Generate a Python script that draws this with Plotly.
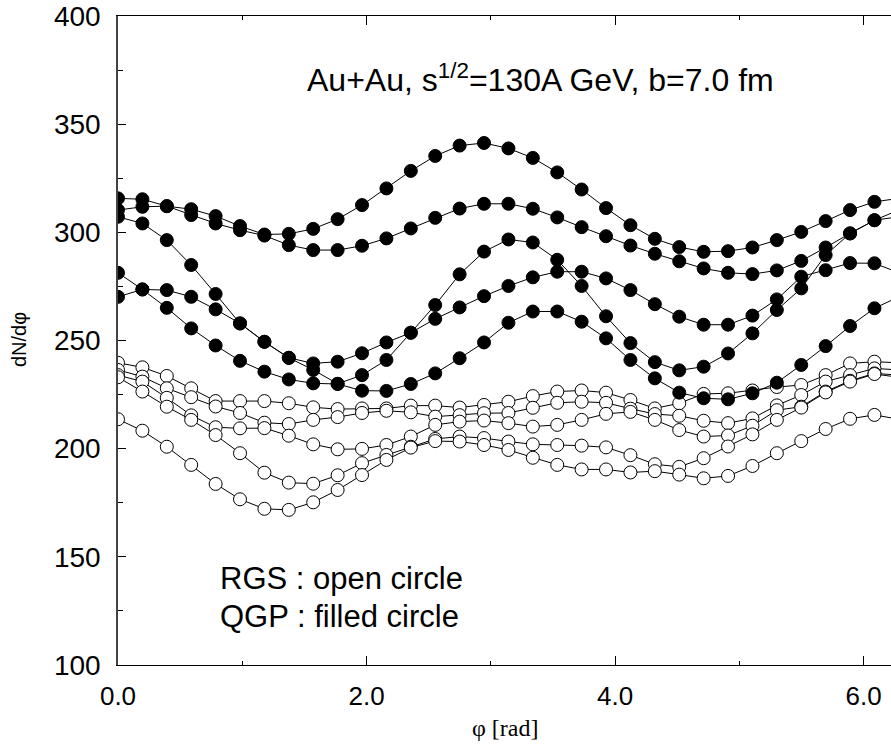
import numpy as np
import plotly.graph_objects as go

# azimuthal angle bins (33 points, 0 .. 2pi)
phi = np.linspace(0, 2 * np.pi, 33)

# QGP (filled circles)
qgp_a = [315.7, 315.3, 312.1, 310.7, 307.5, 302.9, 299.0, 299.3, 301.6, 306.1, 312.6, 320.3, 328.4, 335.3, 340.1, 341.3,
         338.8, 334.4, 327.7, 319.8, 311.2, 303.3, 297.0, 293.2, 291.0, 291.3, 293.0, 296.4, 300.2, 305.2, 310.3, 314.1, 315.7]
qgp_b = [310.3, 311.8, 312.1, 308.0, 304.1, 301.0, 298.5, 294.1, 291.8, 291.8, 293.8, 297.2, 301.8, 306.7, 311.0, 313.2,
         313.2, 310.9, 306.9, 302.4, 298.2, 293.9, 290.1, 286.6, 283.3, 281.3, 280.7, 282.4, 286.8, 293.0, 299.5, 305.6, 310.3]
qgp_c = [307.2, 304.1, 296.4, 284.9, 271.5, 257.9, 249.4, 242.0, 236.4, 230.0, 234.0, 241.0, 253.6, 266.4, 280.6, 291.1,
         296.7, 295.3, 287.3, 275.2, 261.2, 248.8, 240.0, 236.2, 237.9, 244.0, 253.3, 264.1, 274.1, 289.5, 299.5, 305.6, 307.2]
qgp_d = [281.3, 273.6, 273.3, 270.2, 264.4, 257.9, 249.4, 242.0, 239.4, 240.2, 244.1, 249.1, 253.6, 260.0, 265.3, 270.5,
         275.2, 279.2, 281.8, 281.8, 278.7, 273.3, 266.8, 261.0, 257.3, 257.3, 261.5, 269.0, 279.5, 282.5, 285.8, 285.7, 281.3]
qgp_e = [270.2, 273.6, 265.1, 255.6, 247.7, 240.6, 235.6, 232.0, 230.2, 229.9, 226.8, 226.7, 229.9, 234.8, 241.8, 249.1,
         258.2, 263.4, 263.4, 258.7, 251.0, 241.0, 232.5, 225.9, 223.3, 222.8, 225.6, 230.5, 238.7, 247.4, 256.7, 264.9, 270.2]

# RGS (open circles)
rgs_a = [239.7, 237.6, 233.6, 227.9, 222.0, 222.0, 222.0, 221.0, 219.1, 218.3, 218.6, 218.6, 219.9, 219.9, 219.0, 220.2,
         221.7, 224.3, 226.4, 226.9, 225.9, 222.5, 218.6, 221.0, 225.3, 225.6, 226.9, 228.5, 229.4, 234.0, 239.4, 240.2, 239.7]
rgs_b = [236.4, 233.3, 227.9, 223.8, 219.5, 216.5, 212.0, 211.4, 213.3, 214.6, 216.5, 217.5, 216.8, 214.8, 215.5, 216.4,
         216.5, 218.9, 221.2, 221.7, 221.2, 218.5, 216.0, 215.2, 212.9, 211.8, 214.0, 220.0, 224.8, 231.0, 234.0, 237.1, 236.4]
rgs_c = [234.0, 231.0, 223.5, 215.4, 209.9, 209.4, 209.5, 206.0, 202.0, 199.7, 199.9, 201.7, 205.6, 211.0, 212.5, 213.0,
         211.8, 210.2, 211.0, 213.3, 216.1, 217.0, 213.3, 208.6, 205.6, 206.1, 210.6, 217.8, 219.4, 226.4, 231.4, 234.8, 234.0]
rgs_d = [233.0, 226.4, 219.4, 213.3, 206.3, 197.9, 188.9, 184.3, 183.8, 187.7, 193.3, 197.1, 200.9, 204.5, 205.6, 204.9,
         203.3, 202.0, 201.7, 201.4, 200.6, 197.0, 192.8, 191.6, 195.6, 201.0, 206.6, 213.3, 219.0, 226.0, 231.0, 234.5, 233.0]
rgs_e = [213.6, 208.3, 200.9, 192.5, 183.7, 176.6, 172.2, 171.7, 175.2, 180.9, 187.8, 194.8, 200.5, 203.5, 203.3, 201.7,
         199.4, 195.8, 192.5, 190.4, 190.4, 189.0, 189.6, 188.0, 186.3, 187.4, 192.0, 197.9, 203.5, 209.1, 213.8, 215.6, 213.6]

rgs_series = [rgs_a, rgs_b, rgs_c, rgs_d, rgs_e]
qgp_series = [qgp_a, qgp_b, qgp_c, qgp_d, qgp_e]

fig = go.Figure()
for ys in rgs_series:
    fig.add_trace(go.Scatter(
        x=phi, y=ys, mode="lines+markers",
        line=dict(color="black", width=1),
        marker=dict(size=13, color="white", line=dict(color="black", width=1)),
        showlegend=False))
for ys in qgp_series:
    fig.add_trace(go.Scatter(
        x=phi, y=ys, mode="lines+markers",
        line=dict(color="black", width=1),
        marker=dict(size=13, color="black", line=dict(color="black", width=1)),
        showlegend=False))

sans = "Liberation Sans, Arial, sans-serif"

fig.update_layout(
    width=891, height=749,
    margin=dict(l=118, r=0, t=16, b=84, autoexpand=False),
    paper_bgcolor="white", plot_bgcolor="white",
    xaxis=dict(range=[0, 6.22], showgrid=False, zeroline=False, automargin=False,
               showline=True, linecolor="black", linewidth=1, mirror="ticks",
               ticks="inside", ticklen=9, tickcolor="black",
               tickmode="linear", tick0=0, dtick=2, tickformat=".1f",
               minor=dict(ticks="inside", ticklen=4, dtick=1, tickcolor="black"),
               tickfont=dict(family=sans, size=26, color="black"), ticklabelstandoff=8,
               ticklabeloverflow="allow"),
    yaxis=dict(range=[100, 400], showgrid=False, zeroline=False, automargin=False,
               showline=True, linecolor="#444", linewidth=1.5,
               ticks="inside", ticklen=8, tickcolor="black",
               tickmode="linear", tick0=100, dtick=50,
               minor=dict(ticks="inside", ticklen=5, dtick=25, tickcolor="black"),
               tickfont=dict(family=sans, size=28, color="black"), ticklabelstandoff=10,
               ticklabeloverflow="allow"),
    annotations=[
        dict(text="Au+Au, s<sup>1/2</sup>=130A GeV, b=7.0 fm", xref="paper", yref="paper",
             x=0.242, y=0.905, xanchor="left", yanchor="middle", showarrow=False,
             font=dict(family=sans, size=32, color="black")),
        dict(text="RGS : open circle", xref="paper", yref="paper",
             x=0.129, y=0.134, xanchor="left", yanchor="middle", showarrow=False,
             font=dict(family=sans, size=31, color="black")),
        dict(text="QGP : filled circle", xref="paper", yref="paper",
             x=0.129, y=0.074, xanchor="left", yanchor="middle", showarrow=False,
             font=dict(family=sans, size=31, color="black")),
        dict(text="φ [rad]", xref="paper", yref="paper",
             x=0.5006, y=-0.097, xanchor="center", yanchor="middle", showarrow=False,
             font=dict(family="Liberation Serif, Times New Roman, serif", size=24, color="black")),
        dict(text="dN/dφ", xref="paper", yref="paper",
             x=-0.128, y=0.5008, xanchor="center", yanchor="middle", showarrow=False,
             textangle=-90,
             font=dict(family=sans, size=20, color="black")),
    ],
)

# remove the default 8px page margin so the figure sits at the window's corner
fig.write_html("out.html",
               config={"displayModeBar": False},
               post_script="document.body.style.margin='0';document.body.style.overflow='hidden';")
